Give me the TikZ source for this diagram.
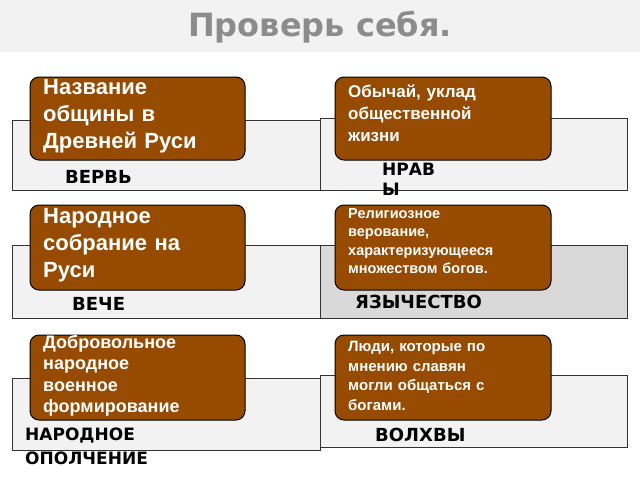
\documentclass[tikz,border=0pt]{standalone}
\usepackage{fontspec}
\setmainfont{Liberation Sans}
\newfontfamily\djfont{DejaVu Sans}
\definecolor{br}{HTML}{964B00}
\definecolor{lg}{HTML}{F2F2F2}
\definecolor{mg}{HTML}{D9D9D9}
\begin{document}
\begin{tikzpicture}[x=1pt,y=-1pt,
  panel/.style={draw=black!80,line width=0.8pt,fill=lg},
  bbox/.style={draw=black,line width=1pt,fill=br,rounded corners=9pt},
  btext/.style={anchor=north west,text=white,align=left,inner sep=0pt,text width=205pt},
  lab/.style={anchor=north west,inner sep=0pt,font=\djfont\bfseries\fontsize{18}{20}\selectfont,align=left}]
\useasboundingbox (0,0) rectangle (640,480);
\fill[lg] (0,0) rectangle (640,52);
\node[font=\djfont\bfseries\fontsize{32}{36}\selectfont,text=black!45] (title) at (320,27) {Проверь себя.};
% row1
\draw[panel] (12,120) rectangle (320,190);
\draw[panel] (320,118) rectangle (627,190);
\draw[bbox] (30,77) rectangle (245,160);
\draw[bbox] (335,77) rectangle (551,160);
\node[btext,font=\bfseries\fontsize{22}{27}\selectfont] (t1) at (43,79) {Название\\общины в\\Древней Руси};
\node[btext,font=\bfseries\fontsize{17}{22}\selectfont] (t2) at (348,85) {Обычай, уклад\\общественной\\жизни};
\node[lab] (l1) at (65,170) {ВЕРВЬ};
\node[lab,font=\djfont\bfseries\fontsize{17}{20}\selectfont] (l2) at (382,163) {НРАВ\\Ы};
% row2
\draw[panel] (12,245) rectangle (320,318);
\draw[panel,fill=mg] (320,245) rectangle (627,318);
\node[lab] (l3) at (72,297) {ВЕЧЕ};
\draw[bbox] (30,205) rectangle (245,290);
\draw[bbox] (335,205) rectangle (551,290);
\node[btext,font=\bfseries\fontsize{22}{27}\selectfont] (t3) at (43,208) {Народное\\собрание на\\Руси};
\node[btext,font=\bfseries\fontsize{14.5}{18.5}\selectfont] (t4) at (348,208) {Религиозное\\верование,\\характеризующееся\\множеством богов.};
\node[lab] (l4) at (355,295) {ЯЗЫЧЕСТВО};
% row3
\draw[panel] (12,378) rectangle (320,450);
\draw[panel] (320,375) rectangle (627,447);
\draw[bbox] (30,335) rectangle (245,420);
\draw[bbox] (335,335) rectangle (551,420);
\node[btext,font=\bfseries\fontsize{18}{21.5}\selectfont] (t5) at (43,335) {Добровольное\\народное\\военное\\формирование};
\node[btext,font=\bfseries\fontsize{15}{19.5}\selectfont] (t6) at (348,341) {Люди, которые по\\мнению славян\\могли общаться с\\богами.};
\node[lab,font=\djfont\bfseries\fontsize{17}{24}\selectfont] (l5) at (25,428) {НАРОДНОЕ\\ОПОЛЧЕНИЕ};
\node[lab] (l6) at (375,428) {ВОЛХВЫ};
\end{tikzpicture}
\end{document}
